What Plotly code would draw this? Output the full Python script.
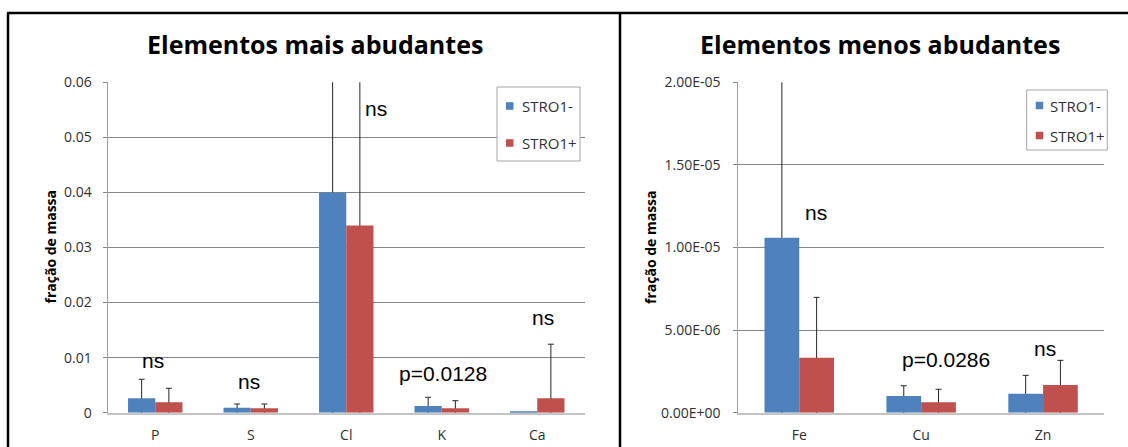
import plotly.graph_objects as go

# ---- data -------------------------------------------------------------
major_elements = ["P", "S", "Cl", "K", "Ca"]
major_stro_neg = [0.00262, 0.00091, 0.0400, 0.00122, 0.00013]
major_stro_pos = [0.00189, 0.00080, 0.0340, 0.00080, 0.00262]
major_err_neg = [0.00345, 0.00067, 0.0300, 0.00158, 0.0]
major_err_pos = [0.00255, 0.00078, 0.0400, 0.00138, 0.00982]
major_labels = ["ns", "ns", "ns", "p=0.0128", "ns"]
major_label_y = [0.00949, 0.00567, 0.05525, 0.00707, 0.01722]
major_label_dx = [-2, -2, 30, 1, 6]
major_ticks = [0, 0.01, 0.02, 0.03, 0.04, 0.05, 0.06]
major_tick_text = ["0", "0.01", "0.02", "0.03", "0.04", "0.05", "0.06"]

minor_elements = ["Fe", "Cu", "Zn"]
minor_stro_neg = [1.059e-5, 1.01e-6, 1.15e-6]
minor_stro_pos = [3.33e-6, 6.3e-7, 1.68e-6]
minor_err_neg = [1.10e-5, 6.2e-7, 1.11e-6]
minor_err_pos = [3.65e-6, 7.9e-7, 1.49e-6]
minor_labels = ["ns", "p=0.0286", "ns"]
minor_label_y = [1.2136e-5, 3.21e-6, 3.90e-6]
minor_label_dx = [17, 25, 2]
minor_ticks = [0, 5e-6, 1e-5, 1.5e-5, 2e-5]
minor_tick_text = ["0.00E+00", "5.00E-06", "1.00E-05", "1.50E-05", "2.00E-05"]

series_names = ["STRO1-", "STRO1+"]

# ---- styling ----------------------------------------------------------
W, H = 1128, 447
BLUE = "#4F81BD"
RED = "#C0504D"
GRID = "#868686"
TEXT = "#303030"
ERR = "#262626"
UI_FONT = "Open Sans"
NOTE_FONT = "Liberation Sans"


def fx(p):
    return p / W


def fy(p):
    return 1 - p / H


fig = go.Figure()


def add_panel(cats, neg, pos, err_neg, err_pos, xa, ya):
    # error whiskers ride on transparent carrier bars drawn underneath;
    # their lower ends run far below the axis and get clipped away, and the
    # real bars drawn afterwards hide the stretch inside each bar
    for grp, vals, errs in (("neg", neg, err_neg), ("pos", pos, err_pos)):
        tops = [v + e if e else None for v, e in zip(vals, errs)]
        drops = [2 * t if t else None for t in tops]
        fig.add_trace(go.Bar(
            x=cats, y=tops, offsetgroup=grp, xaxis=xa, yaxis=ya,
            marker=dict(color="rgba(0,0,0,0)", line=dict(width=0)),
            error_y=dict(type="data", symmetric=False,
                         array=[0] * len(cats), arrayminus=drops,
                         color=ERR, thickness=1, width=3),
            showlegend=False, hoverinfo="skip"))
    for grp, vals, color, name in (("neg", neg, BLUE, series_names[0]),
                                   ("pos", pos, RED, series_names[1])):
        fig.add_trace(go.Bar(
            x=cats, y=vals, offsetgroup=grp, name=name, xaxis=xa, yaxis=ya,
            marker=dict(color=color, line=dict(width=0)),
            showlegend=False))


add_panel(major_elements, major_stro_neg, major_stro_pos,
          major_err_neg, major_err_pos, "x", "y")
add_panel(minor_elements, minor_stro_neg, minor_stro_pos,
          minor_err_neg, minor_err_pos, "x2", "y2")

y_dom = [fy(412.7), fy(82.3)]

xaxis_common = dict(type="category", showline=True, linecolor="#C4C4C4",
                    linewidth=2, ticks="", showgrid=False, zeroline=False,
                    automargin=False, ticklabelstandoff=8,
                    tickfont=dict(family=UI_FONT, size=14, color=TEXT),
                    fixedrange=True)
yaxis_common = dict(showgrid=True, gridcolor=GRID, gridwidth=1,
                    showline=True, linecolor="#A0A0A0", linewidth=1,
                    ticks="outside", ticklen=4, tickcolor=GRID,
                    zeroline=False, tickmode="array", automargin=False,
                    tickfont=dict(family=UI_FONT, size=14, color=TEXT),
                    domain=y_dom, fixedrange=True)

fig.update_layout(
    template="none",
    width=W, height=H, autosize=False,
    margin=dict(l=0, r=0, t=0, b=0, pad=0, autoexpand=False),
    paper_bgcolor="white", plot_bgcolor="white",
    barmode="group", bargap=0.43, bargroupgap=0,
    showlegend=False,
    xaxis=dict(xaxis_common, domain=[fx(107.5), fx(585)], anchor="y"),
    yaxis=dict(yaxis_common, anchor="x", range=[0, 0.06],
               tickvals=major_ticks, ticktext=major_tick_text,
               ticklabelstandoff=8),
    xaxis2=dict(xaxis_common, domain=[fx(738.3), fx(1104)], anchor="y2"),
    yaxis2=dict(yaxis_common, anchor="x2", range=[0, 2e-5],
                tickvals=minor_ticks, ticktext=minor_tick_text,
                ticklabelstandoff=10),
)

annotations = []

# panel titles
for text, cx in (("Elementos mais abudantes", 314.5),
                 ("Elementos menos abudantes", 880)):
    annotations.append(dict(
        text=text, x=fx(cx), y=fy(44.5), xref="paper", yref="paper",
        xanchor="center", yanchor="middle", showarrow=False,
        font=dict(family=UI_FONT, size=25, color="black", weight="bold")))

# vertical axis titles
for cx in (49.5, 650):
    annotations.append(dict(
        text="fração de massa", x=fx(cx), y=fy(247), xref="paper",
        yref="paper", xanchor="center", yanchor="middle", textangle=-90,
        showarrow=False,
        font=dict(family=UI_FONT, size=14, color="black", weight="bold")))

# significance notes above each element
for cats, labels, ys, dxs, xa, ya in (
        (major_elements, major_labels, major_label_y, major_label_dx, "x", "y"),
        (minor_elements, minor_labels, minor_label_y, minor_label_dx, "x2", "y2")):
    for c, t, yv, dx in zip(cats, labels, ys, dxs):
        annotations.append(dict(
            text=t, x=c, y=yv, xref=xa, yref=ya, xshift=dx,
            xanchor="center", yanchor="middle", showarrow=False,
            font=dict(family=NOTE_FONT, size=21, color="black")))

# legend boxes
shapes = []
legend_boxes = [
    # box left, top, right, bottom, item centres, text offset
    (497, 87, 580, 161, (106, 143), 23),
    (1026.7, 90, 1107.3, 150, (105.5, 135.5), 21),
]
for x0, y0, x1, y1, rows, tx in legend_boxes:
    shapes.append(dict(type="rect", xref="paper", yref="paper",
                       x0=fx(x0), x1=fx(x1), y0=fy(y1), y1=fy(y0),
                       line=dict(color="#A6A6A6", width=1),
                       fillcolor="white", layer="above"))
    for ry, color, name in zip(rows, (BLUE, RED), series_names):
        shapes.append(dict(type="rect", xref="paper", yref="paper",
                           x0=fx(x0 + 9), x1=fx(x0 + 16.5),
                           y0=fy(ry + 3.75), y1=fy(ry - 3.75),
                           line=dict(width=0), fillcolor=color,
                           layer="above"))
        annotations.append(dict(
            text=name, x=fx(x0 + tx), y=fy(ry), xref="paper", yref="paper",
            xanchor="left", yanchor="middle", showarrow=False,
            font=dict(family=UI_FONT, size=15, color=TEXT)))

# outer frame lines
for sx0, sy0, sx1, sy1 in ((7, 13, W, 13), (8, 13, 8, H), (620, 13, 620, H)):
    shapes.append(dict(type="line", xref="paper", yref="paper",
                       x0=fx(sx0), x1=fx(sx1), y0=fy(sy0), y1=fy(sy1),
                       line=dict(color="black", width=2.5)))

fig.update_layout(annotations=annotations, shapes=shapes)

fig.write_html("out.html", config={"displayModeBar": False})
